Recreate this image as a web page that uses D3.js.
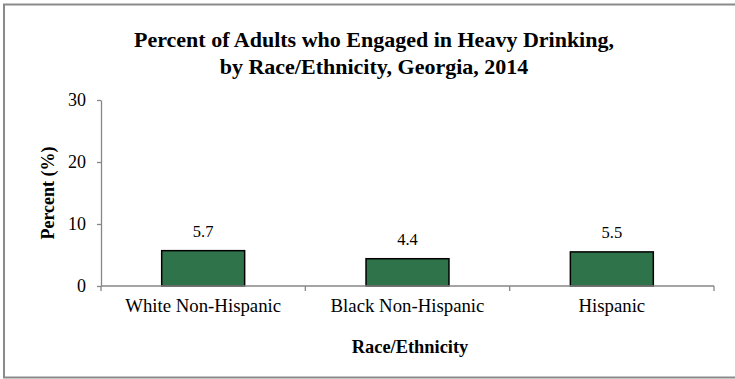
<!DOCTYPE html>
<html>
<head>
<meta charset="utf-8">
<script src="https://cdn.jsdelivr.net/npm/d3@7"></script>
<style>
  html, body { margin: 0; padding: 0; background: #fff; }
  svg { display: block; }
  svg text { font-family: 'Liberation Serif', 'Times New Roman', serif; fill: #000; }
</style>
</head>
<body>
<svg id="chart" width="735" height="379"></svg>
<script>
// Heavy drinking prevalence by race/ethnicity, Georgia 2014
const categories = ["White Non-Hispanic", "Black Non-Hispanic", "Hispanic"];
const values = [5.7, 4.4, 5.5];
const yTicks = [0, 10, 20, 30];
const titleLines = ["Percent of Adults who Engaged in Heavy Drinking,", "by Race/Ethnicity, Georgia, 2014"];

const FONT = "'Liberation Serif', 'Times New Roman', serif";
const svg = d3.select("#chart").attr("font-family", FONT);
const W = 735, H = 379;
const margin = { left: 101, right: 21, top: 100, bottom: 93 };
const plotW = W - margin.left - margin.right;
const plotH = H - margin.top - margin.bottom;

// Outer frame (right edge runs past the canvas)
svg.append("rect")
  .attr("x", 4).attr("y", 4.5)
  .attr("width", W + 10).attr("height", 373)
  .attr("fill", "none").attr("stroke", "#8a8a8a").attr("stroke-width", 2);

const x = d3.scaleBand().domain(categories).range([0, plotW]).paddingInner(0.594).paddingOuter(0.297);
const xBounds = d3.scaleLinear().domain([0, categories.length]).range([0, plotW]);
const y = d3.scaleLinear().domain([0, 30]).range([plotH, 0]);

const g = svg.append("g").attr("transform", `translate(${margin.left},${margin.top})`);

// Title
svg.append("text")
  .attr("x", 374).attr("y", 47)
  .attr("text-anchor", "middle")
  .style("font-weight", "bold").style("font-size", "22px")
  .selectAll("tspan").data(titleLines).join("tspan")
  .attr("x", 374).attr("dy", (d, i) => i === 0 ? 0 : 27)
  .text(d => d);

// Y axis
const yAxis = g.append("g").call(d3.axisLeft(y).tickValues(yTicks).tickSize(4).tickSizeOuter(0).tickPadding(11));
yAxis.attr("font-family", FONT);
yAxis.select(".domain").attr("stroke", "#868686").attr("stroke-width", 1.3);
yAxis.selectAll(".tick line").attr("stroke", "#868686").attr("stroke-width", 1.3);
yAxis.selectAll(".tick text").style("font-size", "18px").attr("fill", "#000");

// Bars
g.selectAll("rect.bar").data(values).join("rect")
  .attr("class", "bar")
  .attr("x", (d, i) => x(categories[i]))
  .attr("width", x.bandwidth())
  .attr("y", d => y(d))
  .attr("height", d => y(0) - y(d))
  .attr("fill", "#2e7349")
  .attr("stroke", "#000").attr("stroke-width", 1.5);

// X axis line with tick marks between categories
g.append("line")
  .attr("x1", 0).attr("x2", plotW).attr("y1", plotH).attr("y2", plotH)
  .attr("stroke", "#868686").attr("stroke-width", 1.3);
g.selectAll("line.cat-tick").data(d3.range(categories.length + 1)).join("line")
  .attr("class", "cat-tick")
  .attr("x1", d => xBounds(d)).attr("x2", d => xBounds(d))
  .attr("y1", plotH).attr("y2", plotH + 5)
  .attr("stroke", "#868686").attr("stroke-width", 1.3);

// Category labels
g.selectAll("text.cat").data(categories).join("text")
  .attr("class", "cat")
  .attr("x", d => x(d) + x.bandwidth() / 2)
  .attr("y", plotH + 26)
  .attr("text-anchor", "middle")
  .style("font-size", "18.8px")
  .text(d => d);

// Value labels
g.selectAll("text.val").data(values).join("text")
  .attr("class", "val")
  .attr("x", (d, i) => x(categories[i]) + x.bandwidth() / 2)
  .attr("y", d => y(d) - 14)
  .attr("text-anchor", "middle")
  .style("font-size", "16.5px")
  .text(d => d.toFixed(1));

// Axis titles
svg.append("text")
  .attr("x", 410).attr("y", 353)
  .attr("text-anchor", "middle")
  .style("font-weight", "bold").style("font-size", "18.4px")
  .text("Race/Ethnicity");

svg.append("text")
  .attr("transform", `translate(54,${margin.top + plotH / 2}) rotate(-90)`)
  .attr("text-anchor", "middle")
  .style("font-weight", "bold").style("font-size", "18px")
  .text("Percent (%)");
</script>
</body>
</html>
